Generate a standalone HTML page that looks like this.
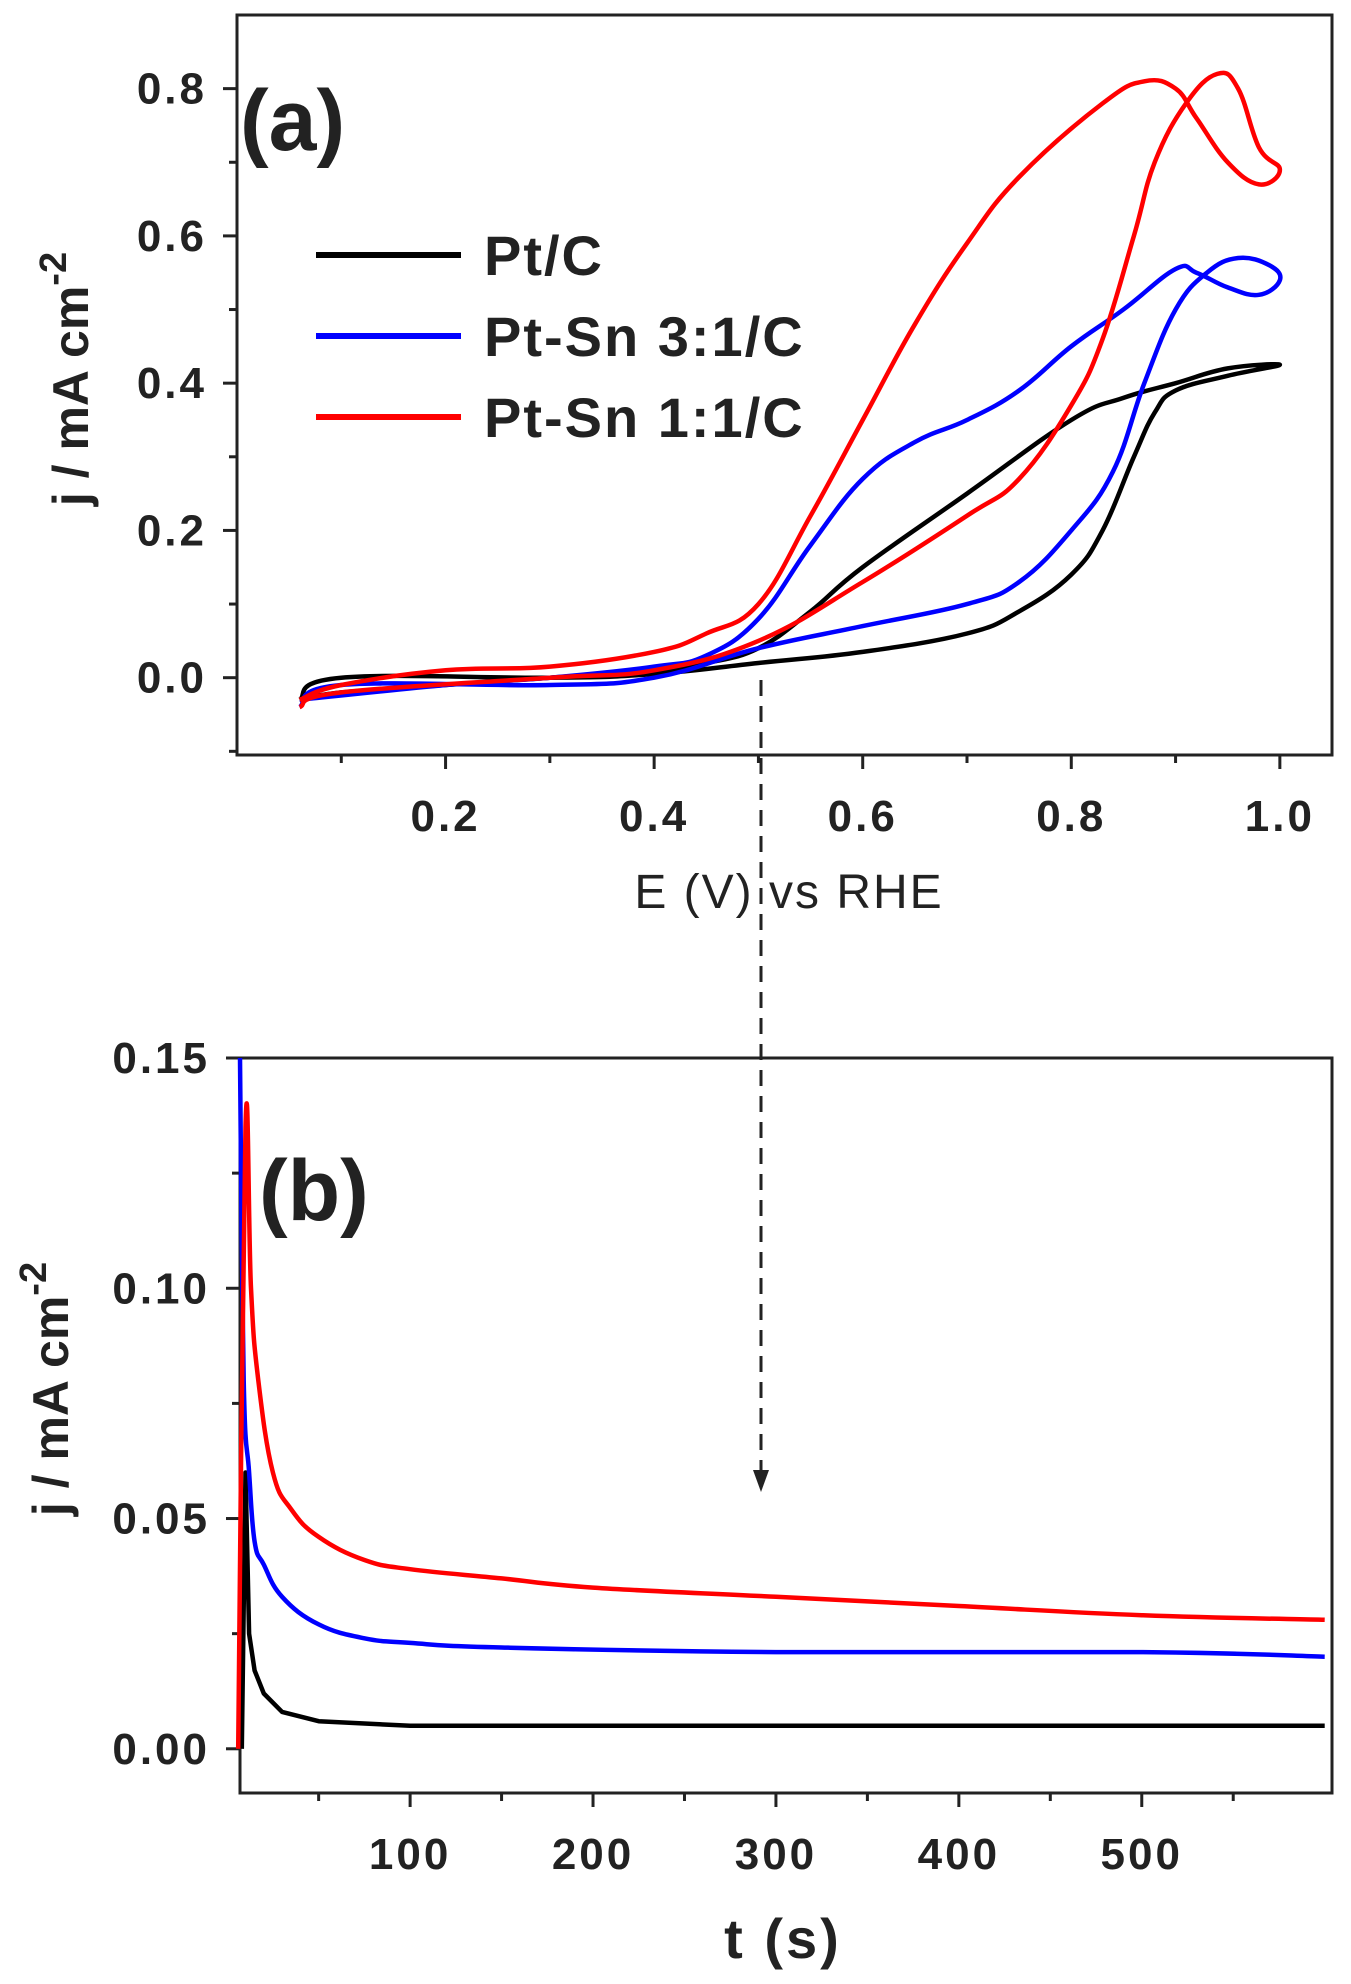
<!DOCTYPE html>
<html><head><meta charset="utf-8"><style>
html,body{margin:0;padding:0;background:#fff}
svg{display:block}
text{font-family:"Liberation Sans",Arial,sans-serif;font-weight:bold;fill:#222}
</style></head><body>
<svg id="chart" width="1351" height="1984" viewBox="0 0 1351 1984" xmlns="http://www.w3.org/2000/svg">
<g id="pa"></g>
<g id="pb"></g>
</svg>
<script>
// Panel (a) CV data: [E, j]
const cvPtC = [[0.06,-0.03],[0.1,0.0],[0.3,0.0],[0.4,0.005],[0.5,0.02],[0.6,0.035],[0.7,0.06],[0.75,0.09],[0.8,0.14],[0.83,0.2],[0.86,0.3],[0.88,0.36],[0.9,0.39],[0.95,0.41],[1.0,0.425],[0.95,0.42],[0.9,0.4],[0.85,0.38],[0.8,0.35],[0.7,0.25],[0.6,0.15],[0.55,0.09],[0.5,0.04],[0.45,0.02],[0.4,0.01],[0.3,0.0],[0.2,-0.01],[0.1,-0.02],[0.06,-0.03]];
const cvSn31 = [[0.06,-0.04],[0.1,-0.01],[0.3,-0.01],[0.4,0.0],[0.5,0.04],[0.6,0.07],[0.7,0.1],[0.75,0.13],[0.8,0.2],[0.84,0.28],[0.87,0.4],[0.9,0.5],[0.93,0.55],[0.96,0.57],[0.99,0.56],[1.0,0.54],[0.98,0.52],[0.95,0.53],[0.92,0.55],[0.9,0.555],[0.85,0.5],[0.8,0.45],[0.75,0.39],[0.7,0.35],[0.65,0.32],[0.6,0.27],[0.55,0.18],[0.5,0.08],[0.45,0.03],[0.4,0.015],[0.3,0.0],[0.2,-0.01],[0.06,-0.03]];
const cvSn11 = [[0.06,-0.04],[0.1,-0.02],[0.3,0.0],[0.4,0.01],[0.5,0.05],[0.6,0.13],[0.7,0.22],[0.75,0.27],[0.8,0.37],[0.83,0.46],[0.86,0.6],[0.88,0.7],[0.91,0.78],[0.94,0.82],[0.96,0.8],[0.98,0.72],[1.0,0.69],[0.98,0.67],[0.95,0.7],[0.92,0.76],[0.9,0.8],[0.87,0.81],[0.83,0.78],[0.75,0.68],[0.7,0.59],[0.65,0.48],[0.6,0.35],[0.55,0.22],[0.5,0.1],[0.45,0.06],[0.4,0.035],[0.3,0.015],[0.2,0.01],[0.1,-0.01],[0.06,-0.03]];
const aXTicks = [0.2,0.4,0.6,0.8,1.0];
const aYTicks = [0.0,0.2,0.4,0.6,0.8];
// Panel (b) CA data: [t, j]
const caPtC = [[8,0.0],[10,0.06],[12,0.025],[15,0.017],[20,0.012],[30,0.008],[50,0.006],[100,0.005],[600,0.005]];
const caSn31 = [[7,0.15],[9,0.08],[12,0.06],[15,0.045],[20,0.04],[30,0.033],[50,0.027],[75,0.024],[100,0.023],[150,0.022],[300,0.021],[500,0.021],[600,0.02]];
const caSn11 = [[6,0.0],[10,0.135],[13,0.1],[17,0.08],[25,0.06],[35,0.052],[50,0.046],[75,0.041],[100,0.039],[150,0.037],[200,0.035],[300,0.033],[400,0.031],[500,0.029],[600,0.028]];
const bXTicks = [100,200,300,400,500];
const bYTicks = [0.00,0.05,0.10,0.15];
const seriesNames = ["Pt/C","Pt-Sn 3:1/C","Pt-Sn 1:1/C"];
const colors = ["#000","#0000ff","#ff0000"];

const NS="http://www.w3.org/2000/svg";
function mk(parent,tag,attrs,txt){const e=document.createElementNS(NS,tag);for(const k in attrs)e.setAttribute(k,attrs[k]);if(txt!==undefined)e.textContent=txt;parent.appendChild(e);return e;}

const A={l:237,r:1332,t:15,b:755,x0:0,x1:1.05,y0:-0.105,y1:0.9};
const B={l:240,r:1332,t:1058,b:1793,x0:7,x1:604,y0:-0.0096,y1:0.15};
function sx(P,v){return P.l+(v-P.x0)/(P.x1-P.x0)*(P.r-P.l);}
function sy(P,v){return P.b-(v-P.y0)/(P.y1-P.y0)*(P.b-P.t);}

const pa=document.getElementById('pa'), pb=document.getElementById('pb');
function frame(g,P){
  const f=mk(g,'rect',{x:P.l,y:P.t,width:P.r-P.l,height:P.b-P.t,fill:'none',stroke:'#222','stroke-width':3});
  
  
}
frame(pa,A);frame(pb,B);

function axes(g,P,xt,yt,xfmt,yfmt,xminor,yminor){
  xt.forEach(v=>{const x=sx(P,v);
    const t=mk(g,'line',{x1:x,x2:x,y1:P.b,y2:P.b+14,stroke:'#222','stroke-width':3});
    
    const l=mk(g,'text',{x:x,y:P.b+76,'text-anchor':'middle','font-size':44,'letter-spacing':3},xfmt(v));
    
  });
  xminor.forEach(v=>{const x=sx(P,v);mk(g,'line',{x1:x,x2:x,y1:P.b,y2:P.b+8,stroke:'#222','stroke-width':3});});
  yt.forEach(v=>{const y=sy(P,v);
    const t=mk(g,'line',{x1:P.l-14,x2:P.l,y1:y,y2:y,stroke:'#222','stroke-width':3});
    
    const l=mk(g,'text',{x:P.l-30,y:y+15,'text-anchor':'end','font-size':44,'letter-spacing':3},yfmt(v));
    
  });
  yminor.forEach(v=>{const y=sy(P,v);mk(g,'line',{x1:P.l-8,x2:P.l,y1:y,y2:y,stroke:'#222','stroke-width':3});});
}
axes(pa,A,aXTicks,aYTicks,v=>v.toFixed(1),v=>v.toFixed(1),[0.1,0.3,0.5,0.7,0.9],[-0.1,0.1,0.3,0.5,0.7]);
axes(pb,B,bXTicks,bYTicks,v=>String(v),v=>v.toFixed(2),[50,150,250,350,450,550],[0.025,0.075,0.125]);

function smoothPath(pts){
  let d='M'+pts[0][0].toFixed(1)+' '+pts[0][1].toFixed(1);
  for(let i=0;i<pts.length-1;i++){
    const p0=pts[i-1]||pts[i],p1=pts[i],p2=pts[i+1],p3=pts[i+2]||p2;
    const t=0.2;
    const c1=[p1[0]+(p2[0]-p0[0])*t,p1[1]+(p2[1]-p0[1])*t];
    const c2=[p2[0]-(p3[0]-p1[0])*t,p2[1]-(p3[1]-p1[1])*t];
    d+=' C'+c1[0].toFixed(1)+' '+c1[1].toFixed(1)+' '+c2[0].toFixed(1)+' '+c2[1].toFixed(1)+' '+p2[0].toFixed(1)+' '+p2[1].toFixed(1);
  }
  return d;
}
function series(g,P,data,color,name,smooth){
  const pts=data.map(p=>[sx(P,p[0]),sy(P,p[1])]);
  const d=smooth?smoothPath(pts):pts.map((p,i)=>(i?'L':'M')+p[0].toFixed(1)+' '+p[1].toFixed(1)).join(' ');
  const e=mk(g,'path',{d:d,fill:'none',stroke:color,'stroke-width':4.5,'stroke-linejoin':'round'});
  
  
}
series(pa,A,cvPtC,colors[0],'cv-pt-c',true);
series(pa,A,cvSn31,colors[1],'cv-pt-sn-3-1',true);
series(pa,A,cvSn11,colors[2],'cv-pt-sn-1-1',true);
series(pb,B,caPtC,colors[0],'ca-pt-c',false);
series(pb,B,caSn31,colors[1],'ca-pt-sn-3-1',true);
series(pb,B,caSn11,colors[2],'ca-pt-sn-1-1',true);

seriesNames.forEach((n,i)=>{
  const y=255+i*81;
  const ln=mk(pa,'line',{x1:316,x2:461,y1:y,y2:y,stroke:colors[i],'stroke-width':6});
  
  const t=mk(pa,'text',{x:484,y:y+20,'font-size':56,'letter-spacing':2},n);
  
});

function lab(g,attrs,txt,name){const e=mk(g,'text',attrs,txt);return e;}
lab(pa,{x:240,y:150,'font-size':86},'(a)','panel-a-label');
lab(pb,{x:259,y:1220,'font-size':86},'(b)','panel-b-label');
lab(pa,{x:789,y:908,'text-anchor':'middle','font-size':48,style:'font-weight:normal','letter-spacing':2},'E (V) vs RHE','x-axis-title-a');
lab(pb,{x:783,y:1958,'text-anchor':'middle','font-size':56,'letter-spacing':3},'t (s)','x-axis-title-b');
const ya=lab(pa,{x:0,y:0,'text-anchor':'middle','font-size':50,transform:'translate(88,379) rotate(-90)'},'','y-axis-title-a');
ya.innerHTML='j / mA cm<tspan dy="-22" font-size="38">-2</tspan>';
const yb=lab(pb,{x:0,y:0,'text-anchor':'middle','font-size':50,transform:'translate(68,1389) rotate(-90)'},'','y-axis-title-b');
yb.innerHTML='j / mA cm<tspan dy="-22" font-size="38">-2</tspan>';

const dl=mk(pa,'line',{x1:761,x2:761,y1:680,y2:1480,stroke:'#222','stroke-width':3,'stroke-dasharray':'16,10'});

const ah=mk(pa,'path',{d:'M753 1470 L769 1470 L761 1492 Z',fill:'#222'});

</script>
</body></html>
